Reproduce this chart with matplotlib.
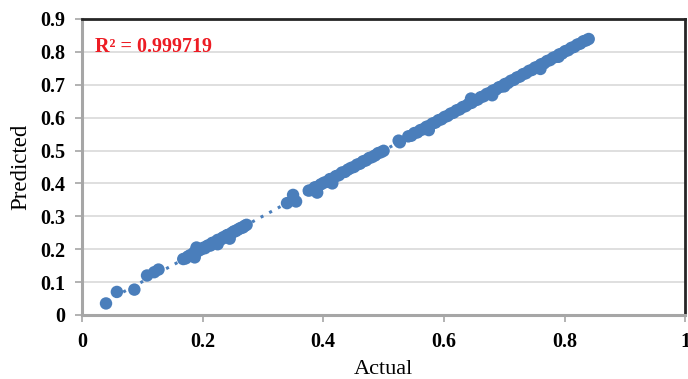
#!/usr/bin/env python3
import numpy as np
import matplotlib.pyplot as plt

# actual vs predicted values
actual_low = [0.040, 0.058, 0.087, 0.108, 0.120, 0.127]
pred_low = [0.035, 0.070, 0.077, 0.120, 0.130, 0.138]

actual_c1 = [0.168, 0.172, 0.176, 0.180, 0.183, 0.186, 0.189, 0.192, 0.195, 0.198,
             0.201, 0.204, 0.207, 0.210, 0.213, 0.216, 0.219, 0.222, 0.225, 0.228,
             0.231, 0.234, 0.237, 0.240, 0.243, 0.246, 0.249, 0.252, 0.255, 0.258,
             0.261, 0.264, 0.267, 0.270, 0.273, 0.187, 0.190, 0.245, 0.225]
pred_c1 = [0.170, 0.172, 0.178, 0.182, 0.181, 0.190, 0.188, 0.196, 0.197, 0.200,
           0.204, 0.203, 0.209, 0.212, 0.211, 0.219, 0.220, 0.221, 0.228, 0.229,
           0.230, 0.236, 0.236, 0.242, 0.244, 0.245, 0.250, 0.254, 0.255, 0.259,
           0.262, 0.265, 0.266, 0.271, 0.274, 0.175, 0.205, 0.232, 0.215]

actual_mid = [0.340, 0.350, 0.355]
pred_mid = [0.340, 0.365, 0.345]

actual_c2 = [0.376, 0.381, 0.386, 0.391, 0.396, 0.401, 0.406, 0.411, 0.416, 0.421,
             0.426, 0.431, 0.436, 0.441, 0.446, 0.451, 0.456, 0.461, 0.466, 0.471,
             0.476, 0.481, 0.486, 0.491, 0.496, 0.500, 0.390, 0.415, 0.525, 0.527]
pred_c2 = [0.378, 0.380, 0.388, 0.390, 0.397, 0.402, 0.405, 0.413, 0.415, 0.422,
           0.425, 0.433, 0.435, 0.442, 0.447, 0.450, 0.457, 0.460, 0.467, 0.470,
           0.477, 0.480, 0.485, 0.492, 0.495, 0.499, 0.372, 0.400, 0.530, 0.525]

actual_c3 = [0.541, 0.546, 0.551, 0.556, 0.561, 0.566, 0.571, 0.576, 0.581, 0.586,
             0.591, 0.596, 0.601, 0.606, 0.611, 0.616, 0.621, 0.626, 0.631, 0.636,
             0.641, 0.646, 0.651, 0.656, 0.661, 0.666, 0.671, 0.676, 0.681, 0.686,
             0.691, 0.696, 0.701, 0.706, 0.711, 0.716, 0.721, 0.726, 0.731, 0.736,
             0.741, 0.746, 0.751, 0.756, 0.761, 0.766, 0.771, 0.776, 0.781, 0.786,
             0.791, 0.796, 0.801, 0.806, 0.811, 0.816, 0.821, 0.826, 0.831, 0.836,
             0.840, 0.575, 0.645, 0.680, 0.700, 0.760, 0.790]
pred_c3 = [0.543, 0.545, 0.553, 0.555, 0.562, 0.565, 0.572, 0.575, 0.582, 0.585,
           0.592, 0.595, 0.602, 0.605, 0.612, 0.615, 0.622, 0.625, 0.632, 0.635,
           0.642, 0.645, 0.652, 0.655, 0.662, 0.665, 0.672, 0.675, 0.682, 0.685,
           0.692, 0.695, 0.702, 0.705, 0.712, 0.715, 0.722, 0.725, 0.732, 0.735,
           0.742, 0.745, 0.752, 0.755, 0.762, 0.765, 0.772, 0.775, 0.782, 0.785,
           0.792, 0.795, 0.802, 0.805, 0.812, 0.815, 0.822, 0.825, 0.832, 0.835,
           0.839, 0.562, 0.658, 0.668, 0.695, 0.748, 0.785]

R2_TEXT = "R² = 0.999719"
BLUE = "#4a7ebb"

plt.rcParams["font.family"] = ["Liberation Serif", "DejaVu Serif"]

actual = np.array(actual_low + actual_c1 + actual_mid + actual_c2 + actual_c3)
pred = np.array(pred_low + pred_c1 + pred_mid + pred_c2 + pred_c3)

fig = plt.figure(figsize=(6.88, 3.79), dpi=100)
ax = fig.add_axes([0.119, 0.169, 0.877, 0.781])

# linear trendline (dotted) behind the points
k, b = np.polyfit(actual, pred, 1)
xs = np.array([actual.min(), actual.max()])
ax.plot(xs, k * xs + b, color=BLUE, linestyle=(0, (1, 2.2)), linewidth=2.2, zorder=2)

ax.scatter(actual, pred, s=80, color=BLUE, edgecolors="none", zorder=3)

ax.set_xlim(0, 1)
ax.set_ylim(0, 0.9)
ax.set_xticks([0, 0.2, 0.4, 0.6, 0.8, 1])
ax.set_xticklabels(["0", "0.2", "0.4", "0.6", "0.8", "1"])
ax.set_yticks(np.arange(0, 0.91, 0.1))
ax.set_yticklabels(["0"] + [f"{v:.1f}" for v in np.arange(0.1, 0.91, 0.1)])

ax.grid(axis="y", color="#d9d9d9", linewidth=1.2, zorder=0)
ax.set_axisbelow(True)

for side in ["left", "bottom"]:
    ax.spines[side].set_color("#a6a6a6")
    ax.spines[side].set_linewidth(2.2)
for side in ["top", "right"]:
    ax.spines[side].set_color("#262626")
    ax.spines[side].set_linewidth(2)

ax.tick_params(axis="both", colors="#a6a6a6", length=5, width=1.2, labelcolor="black",
               labelsize=14.5)
for lbl in ax.get_xticklabels() + ax.get_yticklabels():
    lbl.set_fontweight("bold")
ax.tick_params(axis="x", pad=7)
ax.tick_params(axis="y", pad=7)

ax.set_xlabel("Actual", fontsize=16, labelpad=6)
ax.set_ylabel("Predicted", fontsize=16.5, labelpad=6)

ax.text(0.022, 0.815, R2_TEXT, color="#ed1c24", fontsize=14.5, fontweight="bold",
        va="center", ha="left")

fig.savefig("out.png", dpi=100)
